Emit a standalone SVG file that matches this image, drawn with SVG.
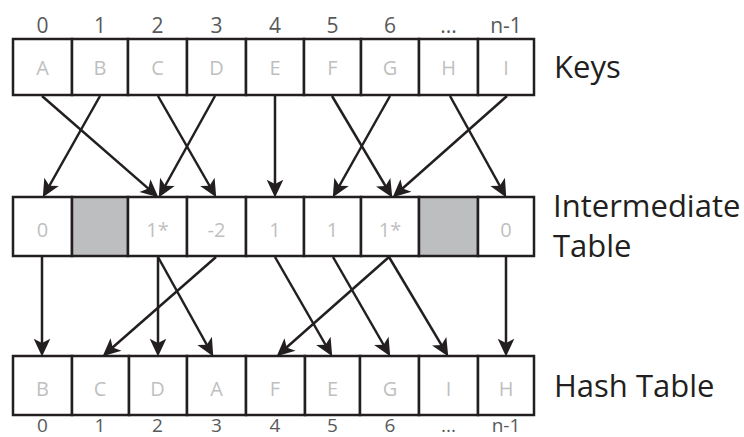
<svg xmlns="http://www.w3.org/2000/svg" width="744" height="437" viewBox="0 0 744 437">
<style>
.cell{fill:#ffffff;stroke:#231f20;stroke-width:2.5}
.gray{fill:#bcbec0;stroke:#231f20;stroke-width:2.5}
.val{font-family:"Open Sans","Liberation Sans",sans-serif;font-size:20px;fill:#bfbfbf;text-anchor:middle}
.idx{font-family:"Open Sans","Liberation Sans",sans-serif;font-size:21px;fill:#58595b;text-anchor:middle}
.idxb{font-family:"Open Sans","Liberation Sans",sans-serif;font-size:19px;fill:#58595b;text-anchor:middle}
.lbl{font-family:"Open Sans","Liberation Sans",sans-serif;font-size:31px;fill:#231f20}
.arr{stroke:#231f20;stroke-width:2.5;fill:none;marker-end:url(#ah)}
</style>
<defs>
<marker id="ah" markerUnits="userSpaceOnUse" markerWidth="24" markerHeight="20" viewBox="-14 -9 20 18" refX="0" refY="0" orient="auto">
<path d="M4,0 L-12,-7.5 L-8,0 L-12,7.5 Z" fill="#231f20"/>
</marker>
</defs>
<rect width="744" height="437" fill="#ffffff"/>

<g id="top-indices">
<text class="idx" x="42.5" y="33">0</text>
<text class="idx" x="100" y="33">1</text>
<text class="idx" x="157.5" y="33">2</text>
<text class="idx" x="216.5" y="33">3</text>
<text class="idx" x="275" y="33">4</text>
<text class="idx" x="332.5" y="33">5</text>
<text class="idx" x="390" y="33">6</text>
<text class="idx" x="448.5" y="33">...</text>
<text class="idx" x="506" y="33">n-1</text>
</g>

<g id="key-A"><rect class="cell" x="13" y="39" width="59" height="56"/><text class="val" x="42.5" y="75">A</text></g>
<g id="key-B"><rect class="cell" x="72" y="39" width="56" height="56"/><text class="val" x="100" y="75">B</text></g>
<g id="key-C"><rect class="cell" x="128" y="39" width="59" height="56"/><text class="val" x="157.5" y="75">C</text></g>
<g id="key-D"><rect class="cell" x="187" y="39" width="59" height="56"/><text class="val" x="216.5" y="75">D</text></g>
<g id="key-E"><rect class="cell" x="246" y="39" width="58" height="56"/><text class="val" x="275" y="75">E</text></g>
<g id="key-F"><rect class="cell" x="304" y="39" width="57" height="56"/><text class="val" x="332.5" y="75">F</text></g>
<g id="key-G"><rect class="cell" x="361" y="39" width="58" height="56"/><text class="val" x="390" y="75">G</text></g>
<g id="key-H"><rect class="cell" x="419" y="39" width="59" height="56"/><text class="val" x="448.5" y="75">H</text></g>
<g id="key-I"><rect class="cell" x="478" y="39" width="56" height="56"/><text class="val" x="506" y="75">I</text></g>

<g id="mid-0"><rect class="cell" x="13" y="197" width="59" height="59"/><text class="val" x="42.5" y="237">0</text></g>
<g id="mid-1"><rect class="gray" x="72" y="197" width="56" height="59"/></g>
<g id="mid-2"><rect class="cell" x="128" y="197" width="59" height="59"/><text class="val" x="157.5" y="237">1*</text></g>
<g id="mid-3"><rect class="cell" x="187" y="197" width="59" height="59"/><text class="val" x="216.5" y="237">-2</text></g>
<g id="mid-4"><rect class="cell" x="246" y="197" width="58" height="59"/><text class="val" x="275" y="237">1</text></g>
<g id="mid-5"><rect class="cell" x="304" y="197" width="57" height="59"/><text class="val" x="332.5" y="237">1</text></g>
<g id="mid-6"><rect class="cell" x="361" y="197" width="58" height="59"/><text class="val" x="390" y="237">1*</text></g>
<g id="mid-7"><rect class="gray" x="419" y="197" width="59" height="59"/></g>
<g id="mid-8"><rect class="cell" x="478" y="197" width="56" height="59"/><text class="val" x="506" y="237">0</text></g>

<g id="hash-0"><rect class="cell" x="13" y="356" width="59" height="59"/><text class="val" x="42.5" y="396">B</text></g>
<g id="hash-1"><rect class="cell" x="72" y="356" width="57" height="59"/><text class="val" x="100" y="396">C</text></g>
<g id="hash-2"><rect class="cell" x="129" y="356" width="58" height="59"/><text class="val" x="157.5" y="396">D</text></g>
<g id="hash-3"><rect class="cell" x="187" y="356" width="59" height="59"/><text class="val" x="216.5" y="396">A</text></g>
<g id="hash-4"><rect class="cell" x="246" y="356" width="59" height="59"/><text class="val" x="275" y="396">F</text></g>
<g id="hash-5"><rect class="cell" x="305" y="356" width="55" height="59"/><text class="val" x="332.5" y="396">E</text></g>
<g id="hash-6"><rect class="cell" x="360" y="356" width="59" height="59"/><text class="val" x="390" y="396">G</text></g>
<g id="hash-7"><rect class="cell" x="419" y="356" width="59" height="59"/><text class="val" x="448.5" y="396">I</text></g>
<g id="hash-8"><rect class="cell" x="478" y="356" width="56" height="59"/><text class="val" x="506" y="396">H</text></g>

<g id="bottom-indices">
<text class="idxb" x="42.5" y="432">0</text>
<text class="idxb" x="100" y="432">1</text>
<text class="idxb" x="157.5" y="432">2</text>
<text class="idxb" x="216.5" y="432">3</text>
<text class="idxb" x="275" y="432">4</text>
<text class="idxb" x="332.5" y="432">5</text>
<text class="idxb" x="390" y="432">6</text>
<text class="idxb" x="448.5" y="432">...</text>
<text class="idxb" x="506" y="432">n-1</text>
</g>

<g id="labels">
<text class="lbl" x="554" y="78">Keys</text>
<text class="lbl" x="553" y="217">Intermediate</text>
<text class="lbl" x="553" y="257">Table</text>
<text class="lbl" x="554" y="397">Hash Table</text>
</g>

<g id="connectors">
<line class="arr" x1="42" y1="96" x2="155" y2="194.4"/>
<line class="arr" x1="100" y1="96" x2="45" y2="193.5"/>
<line class="arr" x1="158" y1="96" x2="214" y2="193.5"/>
<line class="arr" x1="215" y1="96" x2="160.9" y2="193.5"/>
<line class="arr" x1="275" y1="96" x2="275" y2="193"/>
<line class="arr" x1="332" y1="96" x2="390" y2="193.6"/>
<line class="arr" x1="390" y1="96" x2="335" y2="193.5"/>
<line class="arr" x1="450" y1="96" x2="504.1" y2="193.5"/>
<line class="arr" x1="507" y1="96" x2="396" y2="194.3"/>

<line class="arr" x1="42" y1="257" x2="42" y2="352"/>
<line class="arr" x1="158" y1="257" x2="158" y2="352"/>
<line class="arr" x1="158" y1="257" x2="211.1" y2="352.5"/>
<line class="arr" x1="216" y1="257" x2="106" y2="353.3"/>
<line class="arr" x1="275" y1="257" x2="330" y2="352.5"/>
<line class="arr" x1="333" y1="257" x2="388" y2="352.5"/>
<line class="arr" x1="389" y1="257" x2="280" y2="353.3"/>
<line class="arr" x1="389" y1="257" x2="446" y2="352.6"/>
<line class="arr" x1="506" y1="257" x2="506" y2="352"/>
</g>
</svg>
